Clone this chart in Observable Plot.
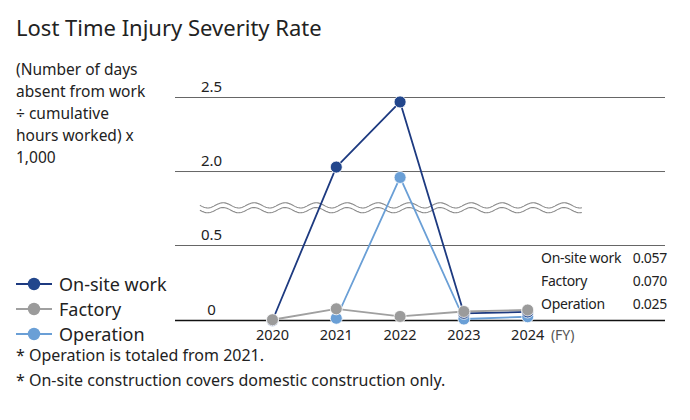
<!DOCTYPE html>
<html>
<head>
<meta charset="utf-8">
<script src="https://cdn.jsdelivr.net/npm/d3@7"></script>
<script src="https://cdn.jsdelivr.net/npm/@observablehq/plot@0.6"></script>
<style>
  html, body { margin: 0; padding: 0; background: #fff; }
  body { width: 690px; height: 420px; position: relative; overflow: hidden; font-family: "Noto Sans", sans-serif; color: #222; }
  #chart { position: absolute; left: 0; top: 0; }
  .abs { position: absolute; }
  #title { left: 16px; top: 12px; font-size: 22px; line-height: 30px; }
  #unit { left: 16px; top: 58px; font-size: 15.5px; line-height: 22px; }
  #legend { left: 16px; top: 271px; font-size: 18px; }
  #legend .row { display: flex; align-items: center; height: 25px; }
  #legend span { line-height: 20px; }
  #legend svg { margin-right: 5px; }
  #latest { left: 541px; top: 246px; width: 126px; font-size: 14px; line-height: 23px; letter-spacing: -0.3px; }
  #latest .row { display: flex; justify-content: space-between; }
  #notes { left: 16px; top: 345px; font-size: 16px; }
  #notes div { line-height: 20px; margin-bottom: 5px; }
</style>
</head>
<body>
<div id="chart"></div>
<div id="title" class="abs">Lost Time Injury Severity Rate</div>
<div id="unit" class="abs">(Number of days<br>absent from work<br>÷ cumulative<br>hours worked) x<br>1,000</div>
<div id="legend" class="abs"></div>
<div id="latest" class="abs"></div>
<div id="notes" class="abs"><div>* Operation is totaled from 2021.</div><div>* On-site construction covers domestic construction only.</div></div>
<script>
// ---- data ----
const years = [2020, 2021, 2022, 2023, 2024];
const onsite = [0.0, 2.03, 2.47, 0.048, 0.057];
const factory = [0.005, 0.078, 0.027, 0.06, 0.070];
const operation = [null, 0.015, 1.96, 0.01, 0.025];
const seriesNames = ["On-site work", "Factory", "Operation"];
const seriesColors = ["#22468c", "#9b9b9b", "#6a9fd6"];
const lineColors = ["#1d3a80", "#a0a0a0", "#6a9fd6"];
const yTicks = [0, 0.5, 2.0, 2.5];
const yTickLabels = ["0", "0.5", "2.0", "2.5"];
const latestLabels = ["0.057", "0.070", "0.025"];
const unitLabel = "(FY)";

// long table built from arrays
const table = [];
[onsite, factory, operation].forEach((vals, si) => {
  vals.forEach((v, i) => {
    if (v != null) table.push({series: seriesNames[si], year: years[i], value: v});
  });
});
const bySeries = s => table.filter(d => d.series === s);

// axis-break decoration drawn in pixel space from scales
function breakMark(index, scales) {
  const g = d3.create("svg:g");
  const x0 = scales.x(2018.87), x1 = scales.x(2024.86);
  const yc = (scales.y(0.75) + scales.y(1.757)) / 2 + 0.5;
  const period = 31, amp = 2.6;
  const wave = off => {
    const pts = [];
    for (let x = x0; x <= x1; x += 1) pts.push([x, yc + off + amp * Math.sin((x - x0) / period * 2 * Math.PI)]);
    return d3.line()(pts);
  };
  g.append("path").attr("d", wave(0)).attr("fill", "none").attr("stroke", "#fff").attr("stroke-width", 5);
  g.append("path").attr("d", wave(-2.4)).attr("fill", "none").attr("stroke", "#8a8a8a").attr("stroke-width", 1.1);
  g.append("path").attr("d", wave(2.4)).attr("fill", "none").attr("stroke", "#8a8a8a").attr("stroke-width", 1.1);
  return g.node();
}

const chart = Plot.plot({
  width: 690,
  height: 345,
  marginLeft: 175,
  marginRight: 25,
  x: {type: "linear", domain: [2018.48, 2026.16], axis: null},
  y: {type: "linear", domain: [0, 0.75, 1.757, 2.6], range: [320, 207.5, 207, 82.2], axis: null},
  style: {fontFamily: "Noto Sans, sans-serif", fontSize: "14px", color: "#222", background: "transparent"},
  marks: [
    Plot.ruleY(yTicks.filter(d => d !== 0), {y: d => d, stroke: "#666", strokeWidth: 1, strokeOpacity: 1}),
    Plot.text(yTicks, {y: d => d, text: (d, i) => yTickLabels[i], frameAnchor: "left", textAnchor: "middle", dx: 36, dy: -10, fill: "#222", fontSize: 15}),
    breakMark,
    Plot.ruleY([0], {stroke: "#111", strokeWidth: 1.5}),
    Plot.line(bySeries("On-site work"), {x: "year", y: "value", stroke: lineColors[0], strokeWidth: 1.8}),
    Plot.line(bySeries("Operation"), {x: "year", y: "value", stroke: lineColors[2], strokeWidth: 1.8}),
    Plot.line(bySeries("Factory"), {x: "year", y: "value", stroke: lineColors[1], strokeWidth: 1.8}),
    Plot.dot(bySeries("Operation"), {x: "year", y: "value", r: 6, fill: seriesColors[2], stroke: "#fff", strokeWidth: 0.8}),
    Plot.dot(bySeries("On-site work"), {x: "year", y: "value", r: 6, fill: seriesColors[0], stroke: "#fff", strokeWidth: 0.8}),
    Plot.dot(bySeries("Factory"), {x: "year", y: "value", r: 6, fill: seriesColors[1], stroke: "#fff", strokeWidth: 0.8}),
    Plot.text(years, {x: d => d, y: () => 0, text: d => String(d), dy: 15, fill: "#222", fontSize: 14.5}),
    Plot.text([years[years.length - 1]], {x: d => d, y: () => 0, text: () => unitLabel, dy: 15, dx: 35, fill: "#555", fontSize: 14})
  ]
});
document.getElementById("chart").appendChild(chart);

// legend
const legend = d3.select("#legend");
seriesNames.forEach((name, i) => {
  const row = legend.append("div").attr("class", "row");
  const s = row.append("svg").attr("width", 38).attr("height", 16);
  s.append("line").attr("x1", 0).attr("x2", 36).attr("y1", 8).attr("y2", 8).attr("stroke", lineColors[i]).attr("stroke-width", 2);
  s.append("circle").attr("cx", 18).attr("cy", 8).attr("r", 6.2).attr("fill", seriesColors[i]);
  row.append("span").text(name);
});

// latest values box
const latest = d3.select("#latest");
seriesNames.forEach((name, i) => {
  const row = latest.append("div").attr("class", "row");
  row.append("span").text(name);
  row.append("span").text(latestLabels[i]);
});
</script>
</body>
</html>
